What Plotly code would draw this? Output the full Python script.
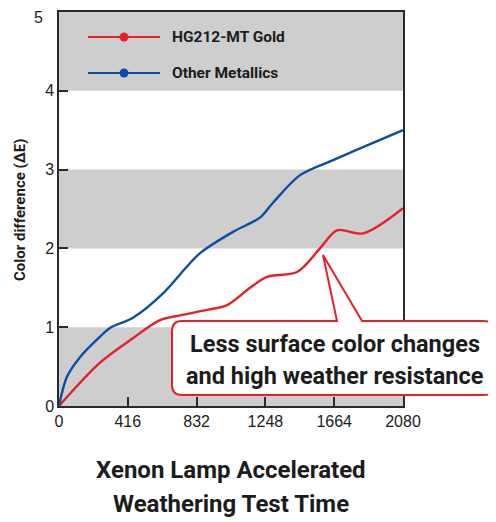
import plotly.graph_objects as go

# ---- data ----
hours_blue = [0, 48, 127, 248, 308, 447, 629, 774, 853, 1052, 1215, 1294, 1458, 1657, 1820, 2080]
de_blue = [0, 0.37, 0.62, 0.88, 0.99, 1.12, 1.43, 1.77, 1.94, 2.21, 2.39, 2.58, 2.93, 3.12, 3.27, 3.50]
hours_red = [0, 248, 447, 611, 732, 895, 1016, 1155, 1258, 1439, 1578, 1681, 1838, 2080]
de_red = [0, 0.55, 0.86, 1.09, 1.15, 1.22, 1.28, 1.50, 1.64, 1.70, 2.0, 2.23, 2.19, 2.51]
x_ticks = [0, 416, 832, 1248, 1664, 2080]
y_ticks = [0, 1, 2, 3, 4, 5]
grey_bands = [(0, 1), (2, 3), (4, 5)]
series_names = ["HG212-MT Gold", "Other Metallics"]
callout_lines = ["Less surface color changes", "and high weather resistance"]
x_title_lines = ["Xenon Lamp Accelerated", "Weathering Test Time"]

RED = "#e5202a"
BLUE = "#0d4ea3"
GREY = "#cecece"
INK = "#1c1c1c"
BOLDF = "Roboto, Liberation Sans, Arial, sans-serif"
TICKF = "Liberation Sans, Arial, sans-serif"

# page body has an 8px margin; work in window pixels and shift
OFF = 8
W, H = 496 - OFF, 522 - OFF
L, R, T, B = 59, 403, 12, 406


def px(xp, yp):
    return ((xp - L) / (R - L), (B - yp) / (B - T))


def P(xp, yp):
    a, b = px(xp, yp)
    return f"{a:.5f},{b:.5f}"


fig = go.Figure()
fig.add_trace(go.Scatter(x=hours_red, y=de_red, mode="lines", name=series_names[0],
                         line=dict(color=RED, width=2.4, shape="spline", smoothing=0.9),
                         showlegend=False))
fig.add_trace(go.Scatter(x=hours_blue, y=de_blue, mode="lines", name=series_names[1],
                         line=dict(color=BLUE, width=2.4, shape="spline", smoothing=0.9),
                         showlegend=False))

shapes = []
for y0, y1 in grey_bands:
    shapes.append(dict(type="rect", xref="paper", yref="y", x0=0, x1=1, y0=y0, y1=y1,
                       fillcolor=GREY, line=dict(width=0), layer="below"))

# callout bubble
top, bot, lft, rgt, rad = 321, 395, 172, 494, 10
path = (f"M{P(lft+rad, top)} L{P(337, top)} L{P(323, 255)} L{P(362, top)} "
        f"L{P(rgt-rad, top)} Q{P(rgt, top)} {P(rgt, top+rad)} "
        f"L{P(rgt, bot-rad)} Q{P(rgt, bot)} {P(rgt-rad, bot)} "
        f"L{P(lft+rad, bot)} Q{P(lft, bot)} {P(lft, bot-rad)} "
        f"L{P(lft, top+rad)} Q{P(lft, top)} {P(lft+rad, top)} Z")
shapes.append(dict(type="path", xref="paper", yref="paper", path=path,
                   fillcolor="white", line=dict(color=RED, width=2), layer="above"))

# legend (drawn manually)
annotations = []
for i, (col, name) in enumerate(zip([RED, BLUE], series_names)):
    yp = 37 + 36 * i
    x0, y0 = px(88, yp)
    x1, _ = px(160, yp)
    shapes.append(dict(type="line", xref="paper", yref="paper", x0=x0, x1=x1, y0=y0, y1=y0,
                       line=dict(color=col, width=2)))
    cx0, cy0 = px(119.5, yp - 4.5)
    cx1, cy1 = px(128.5, yp + 4.5)
    shapes.append(dict(type="circle", xref="paper", yref="paper", x0=cx0, x1=cx1, y0=cy0, y1=cy1,
                       fillcolor=col, line=dict(color=col, width=0)))
    tx, ty = px(170, yp)
    annotations.append(dict(xref="paper", yref="paper", x=tx, y=ty, xanchor="left", yanchor="middle",
                            text=f"<b>{name}</b>", showarrow=False,
                            font=dict(family=BOLDF, size=15.5, color=INK)))

for j, line in enumerate(callout_lines):
    tx, ty = px(335, 344 + 32 * j)
    annotations.append(dict(xref="paper", yref="paper", x=tx, y=ty, xanchor="center", yanchor="middle",
                            text=f"<b>{line}</b>", showarrow=False,
                            font=dict(family=BOLDF, size=23.5, color=INK)))

for j, line in enumerate(x_title_lines):
    tx, ty = px(231, 470 + 34 * j)
    annotations.append(dict(xref="paper", yref="paper", x=tx, y=ty, xanchor="center", yanchor="middle",
                            text=f"<b>{line}</b>", showarrow=False,
                            font=dict(family=BOLDF, size=24, color=INK)))

tx, ty = px(20, 210)
annotations.append(dict(xref="paper", yref="paper", x=tx, y=ty, xanchor="center", yanchor="middle",
                        text="<b>Color difference (ΔE)</b>", textangle=-90, showarrow=False,
                        font=dict(family=BOLDF, size=15, color=INK)))

# top y tick label sits just below the top edge in the reference
tx, ty = px(44, 17.5)
annotations.append(dict(xref="paper", yref="paper", x=tx, y=ty, xanchor="right", yanchor="middle",
                        text=str(y_ticks[-1]), showarrow=False, borderpad=0,
                        font=dict(family=TICKF, size=16, color=INK)))

fig.update_layout(
    width=W, height=H,
    margin=dict(l=L - OFF, r=W - (R - OFF), t=T - OFF, b=H - (B - OFF), pad=0, autoexpand=False),
    paper_bgcolor="white", plot_bgcolor="white",
    shapes=shapes, annotations=annotations,
    showlegend=False,
)
axis_common = dict(showgrid=False, zeroline=False, showline=True, linecolor="#2a2a2a", linewidth=1.5,
                   mirror=True, ticks="inside", ticklen=9, tickwidth=1.5, tickcolor="#2a2a2a",
                   automargin=False,
                   tickfont=dict(family=TICKF, size=16, color=INK))
fig.update_xaxes(range=[0, 2080], tickvals=x_ticks, ticktext=[str(v) for v in x_ticks], **axis_common)
fig.update_yaxes(range=[0, 5], tickvals=y_ticks,
                 ticktext=[str(v) for v in y_ticks[:-1]] + [""], **axis_common)

fig.write_html("out.html")
